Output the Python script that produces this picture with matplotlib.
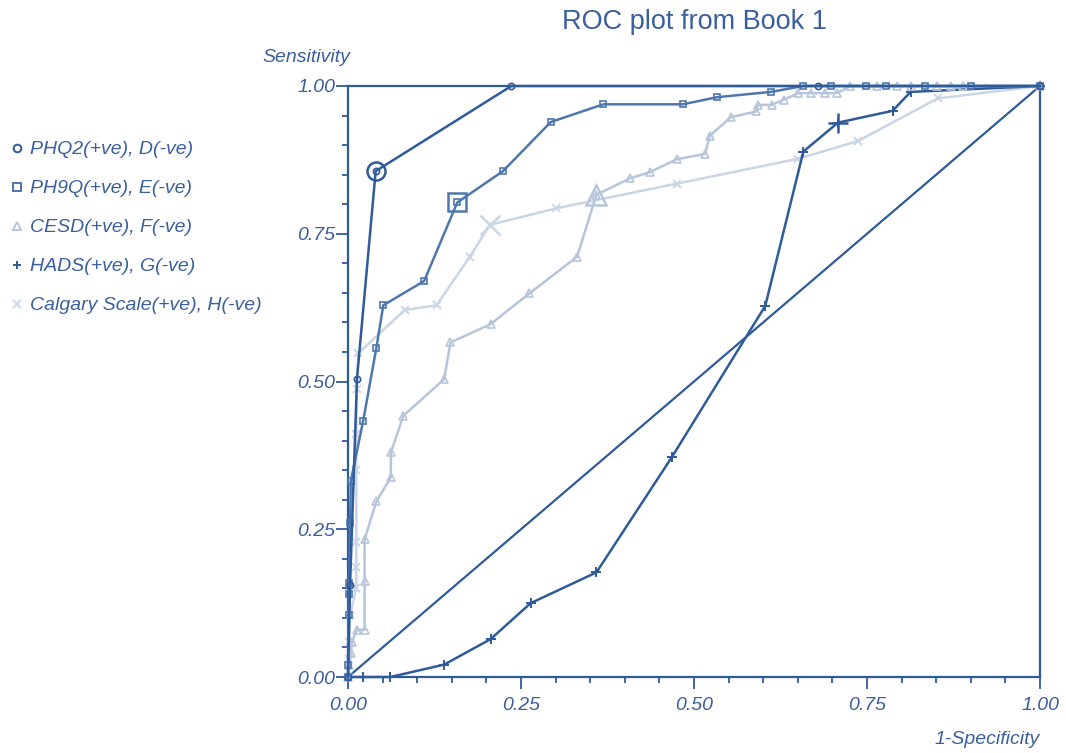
import matplotlib
matplotlib.use("Agg")
import matplotlib.pyplot as plt
from matplotlib.ticker import MultipleLocator, FixedLocator
from matplotlib.lines import Line2D

# ---------------- data ----------------
phq2_x = [0.0, 0.003, 0.013, 0.040, 0.236, 0.679, 1.0]
phq2_y = [0.0, 0.156, 0.505, 0.856, 1.0, 1.0, 1.0]
phq2_best = 3

ph9q_x = [0.0, 0.0, 0.001, 0.002, 0.002, 0.003, 0.004, 0.022, 0.041, 0.051, 0.110,
          0.158, 0.224, 0.293, 0.369, 0.484, 0.533, 0.611, 0.658, 0.698, 0.748,
          0.777, 0.834, 0.900, 1.0]
ph9q_y = [0.0, 0.02, 0.105, 0.140, 0.159, 0.260, 0.331, 0.434, 0.557, 0.629, 0.670,
          0.803, 0.856, 0.939, 0.969, 0.969, 0.981, 0.990, 1.0, 1.0, 1.0,
          1.0, 1.0, 1.0, 1.0]
ph9q_best = 11

cesd_x = [0.0, 0.002, 0.004, 0.006, 0.013, 0.024, 0.024, 0.024, 0.041, 0.062, 0.062,
          0.080, 0.139, 0.148, 0.206, 0.262, 0.331, 0.359, 0.408, 0.436, 0.475,
          0.516, 0.523, 0.553, 0.590, 0.592, 0.612, 0.630, 0.651, 0.669, 0.689,
          0.707, 0.726, 0.765, 0.794, 0.813, 0.851, 0.871, 0.889, 1.0]
cesd_y = [0.0, 0.02, 0.04, 0.06, 0.080, 0.080, 0.163, 0.233, 0.297, 0.338, 0.380,
          0.442, 0.504, 0.566, 0.597, 0.649, 0.711, 0.816, 0.844, 0.854, 0.876,
          0.885, 0.916, 0.947, 0.957, 0.968, 0.968, 0.977, 0.988, 0.988, 0.988,
          0.988, 1.0, 1.0, 1.0, 1.0, 1.0, 1.0, 1.0, 1.0]
cesd_best = 17

hads_x = [0.0, 0.022, 0.061, 0.139, 0.206, 0.264, 0.359, 0.468, 0.603, 0.658,
          0.708, 0.787, 0.813, 1.0]
hads_y = [0.0, 0.0, 0.0, 0.021, 0.064, 0.125, 0.177, 0.372, 0.628, 0.889,
          0.938, 0.958, 0.990, 1.0]
hads_best = 10

calg_x = [0.0, 0.001, 0.002, 0.003, 0.012, 0.012, 0.012, 0.012, 0.012, 0.0125,
          0.015, 0.082, 0.128, 0.176, 0.205, 0.301, 0.476, 0.651, 0.737, 0.852, 1.0]
calg_y = [0.0, 0.03, 0.06, 0.105, 0.150, 0.186, 0.229, 0.351, 0.412, 0.488,
          0.548, 0.621, 0.629, 0.711, 0.765, 0.793, 0.835, 0.877, 0.907, 0.979, 1.0]
calg_best = 14

labels = ["PHQ2(+ve), D(-ve)", "PH9Q(+ve), E(-ve)", "CESD(+ve), F(-ve)",
          "HADS(+ve), G(-ve)", "Calgary Scale(+ve), H(-ve)"]
ticks = [0.0, 0.25, 0.5, 0.75, 1.0]
tick_labels = ["0.00", "0.25", "0.50", "0.75", "1.00"]

# ---------------- style ----------------
DARK = "#2f5b9a"
MED = "#4e77ad"
LIGHT1 = "#b6c5db"
LIGHT2 = "#cad5e5"
TXT = "#3a5f9c"
FS = 14

plt.rcParams['font.family'] = ['Liberation Sans', 'DejaVu Sans']

fig = plt.figure(figsize=(10.66, 7.53), dpi=100)
ax = fig.add_axes([348 / 1066, 76 / 753, 692 / 1066, 591 / 753])
ax.set_xlim(0, 1)
ax.set_ylim(0, 1)

# diagonal chance line
ax.plot([0, 1], [0, 1], color=DARK, lw=1.6, zorder=2, clip_on=False)

series = [
    (phq2_x, phq2_y, phq2_best, 'o', DARK, 4.5, 13),
    (ph9q_x, ph9q_y, ph9q_best, 's', MED, 4.8, 12.5),
    (cesd_x, cesd_y, cesd_best, '^', LIGHT1, 5.5, 15),
    (hads_x, hads_y, hads_best, '+', DARK, 6.5, 15),
    (calg_x, calg_y, calg_best, 'x', LIGHT2, 5.5, 14),
]

order = [4, 2, 3, 1, 0]
for i in order:
    xs, ys, best, m, c, ms, bms = series[i]
    mew = 1.4 if m in '+x' else 1.2
    ax.plot(xs, ys, color=c, lw=1.8, marker=m, ms=ms, mfc='none', mec=c, mew=mew,
            zorder=3 + (4 - i) * 0.1, clip_on=False)
    ax.plot([xs[best]], [ys[best]], linestyle='none', marker=m, ms=bms, mfc='none',
            mec=c, mew=1.8, zorder=4, clip_on=False)

handles = []
for i in range(5):
    xs, ys, best, m, c, ms, bms = series[i]
    handles.append(Line2D([], [], linestyle='none', marker=m, ms=5.5, mfc='none', mec=c,
                          mew=1.4))

leg = fig.legend(handles, labels, loc='upper left', bbox_to_anchor=(3 / 1066, 1 - 133 / 753),
                 bbox_transform=fig.transFigure, frameon=False, handlelength=0.6,
                 handletextpad=0.4, labelspacing=1.1, borderaxespad=0,
                 prop={'style': 'italic', 'size': FS})
for t in leg.get_texts():
    t.set_color(TXT)

# spines
for s in ax.spines.values():
    s.set_color(DARK)
    s.set_linewidth(1.6)

ax.xaxis.set_major_locator(FixedLocator(ticks))
ax.yaxis.set_major_locator(FixedLocator(ticks))
ax.xaxis.set_minor_locator(MultipleLocator(0.05))
ax.yaxis.set_minor_locator(MultipleLocator(0.05))
ax.set_xticklabels(tick_labels)
ax.set_yticklabels(tick_labels)
ax.tick_params(which='major', direction='out', length=8.5, width=1.3, color=DARK,
               labelcolor=TXT, labelsize=FS)
ax.tick_params(axis='y', which='major', pad=0.5)
ax.tick_params(axis='x', which='major', pad=6)
ax.tick_params(which='minor', direction='out', length=4.5, width=1.3, color=DARK)
for lab in ax.get_xticklabels() + ax.get_yticklabels():
    lab.set_style('italic')

fig.text(694 / 1066, 1 - 22 / 753, "ROC plot from Book 1", ha='center', va='center',
         fontsize=19.5, color=TXT)
fig.text(306 / 1066, 1 - 58 / 753, "Sensitivity", ha='center', va='center',
         fontsize=FS, style='italic', color=TXT)
fig.text(1040 / 1066, 1 - 740 / 753, "1-Specificity", ha='right', va='center',
         fontsize=FS, style='italic', color=TXT)

fig.savefig("out.png", dpi=100)
